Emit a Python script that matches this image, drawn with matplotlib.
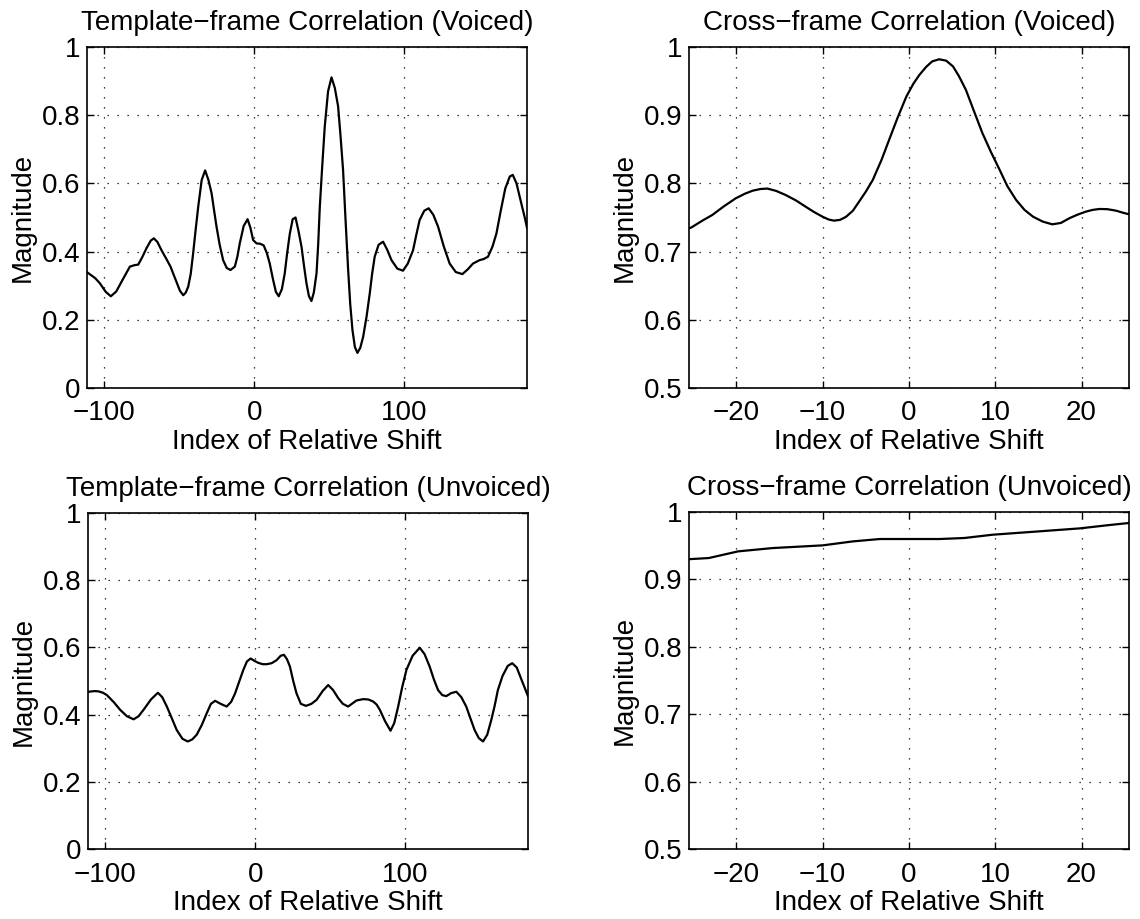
import matplotlib
matplotlib.use('Agg')
import matplotlib.pyplot as plt
from matplotlib.ticker import FormatStrFormatter, MultipleLocator

# ---------------- data ----------------
tv_x = [-111.3, -106, -102.9, -99, -95.6, -92, -87.3, -82.9, -80, -77.3, -74.5, -71.8, -69, -66.9,
        -64.5, -61.8, -58.5, -55.8, -53.5, -51.8, -49.5, -47.3, -45.6, -44, -42.3, -40.7, -39, -37.3,
        -35, -32.7, -30.5, -28.4, -26.7, -25.1, -23, -20.7, -18.3, -15.8, -12.9, -11.2, -9.6, -7, -4.4,
        -2.5, -0.7, 1.6, 4, 6.4, 8.5, 10.4, 12.5, 14.5, 16.4, 18.5, 20.4, 22, 23.8, 25.7, 27.6, 29.5,
        31.6, 33.2, 34.9, 36.5, 38.2, 39.8, 41.6, 42.7, 43.8, 45.4, 47.1, 49.3, 51.6, 53.8, 56, 57.6,
        59.3, 61, 62.7, 64.1, 65.6, 67.2, 68.9, 70.8, 72.7, 75, 77.1, 78.7, 80.4, 83, 86, 88.8, 91.6,
        95.5, 99.3, 102.5, 106, 108.2, 110.4, 113.5, 116.4, 119.5, 122.7, 126.5, 130.4, 134.5, 138.9,
        142.5, 146, 150.4, 153, 156, 159, 161.6, 164.5, 167.5, 170.5, 172.5, 175, 178, 180.5, 182]
tv_y = [0.339, 0.322, 0.307, 0.282, 0.269, 0.283, 0.321, 0.356, 0.360, 0.362, 0.385, 0.410, 0.432, 0.439,
        0.428, 0.404, 0.378, 0.356, 0.330, 0.311, 0.285, 0.272, 0.280, 0.297, 0.335, 0.395, 0.465, 0.532,
        0.610, 0.638, 0.610, 0.571, 0.520, 0.473, 0.420, 0.375, 0.352, 0.346, 0.356, 0.385, 0.424, 0.475, 0.495,
        0.470, 0.434, 0.424, 0.423, 0.418, 0.395, 0.365, 0.320, 0.282, 0.269, 0.290, 0.336, 0.395, 0.453, 0.495, 0.500, 0.462,
        0.414, 0.360, 0.307, 0.270, 0.255, 0.280, 0.336, 0.420, 0.532, 0.650, 0.767, 0.870, 0.911, 0.880, 0.826, 0.740,
        0.640, 0.490, 0.346, 0.245, 0.169, 0.120, 0.103, 0.118, 0.150, 0.210, 0.277, 0.335, 0.385, 0.420, 0.429, 0.405, 0.375,
        0.350, 0.344, 0.365, 0.404, 0.450, 0.493, 0.520, 0.527, 0.508, 0.473, 0.415, 0.365, 0.340, 0.334,
        0.348, 0.365, 0.375, 0.378, 0.385, 0.415, 0.453, 0.520, 0.585, 0.620, 0.625, 0.600, 0.545, 0.500, 0.470]

cv_x = [-25.5, -25.2, -24, -22.8, -21.5, -20.1, -19, -18.1, -17.2, -16.4, -15.4, -14.3, -13.1, -12, -11,
        -10, -9.3, -8.7, -8, -7.3, -6.5, -5.8, -5, -4.2, -3.2, -2.3, -1.3, -0.3, 0.5, 1.2, 2, 2.7, 3.5,
        4.3, 5.1, 5.8, 6.6, 7.5, 8.5, 9.5, 10.5, 11.4, 12.4, 13.4, 14.4, 15.5, 16.6, 17.6, 18.6, 19.5,
        20.5, 21.3, 22.1, 23, 24, 24.8, 25.5]
cv_y = [0.734, 0.7356, 0.745, 0.7537, 0.766, 0.778, 0.785, 0.7894, 0.7918, 0.7924, 0.789, 0.783, 0.775, 0.766, 0.758,
        0.751, 0.747, 0.7454, 0.7465, 0.751, 0.760, 0.773, 0.788, 0.805, 0.834, 0.864, 0.897, 0.9275, 0.946, 0.959, 0.971, 0.979, 0.982,
        0.980, 0.9716, 0.957, 0.937, 0.907, 0.874, 0.846, 0.820, 0.796, 0.776, 0.761, 0.751, 0.744, 0.740, 0.742, 0.749, 0.754,
        0.7586, 0.7612, 0.7625, 0.7622, 0.760, 0.757, 0.7547]

tu_x = [-111.1, -107, -104.4, -101.5, -98.9, -94.5, -90, -85.5, -81.1, -77.8, -74.5, -69.5, -64.9, -62, -58.9,
        -55.5, -52.3, -48.5, -45, -42, -39, -35.5, -32.3, -29.5, -26.7, -23, -19, -16, -13.4, -10.5, -7.9,
        -5.5, -3, -0.5, 2.1, 5, 7.7, 11, 14.3, 17, 19.2, 21.2, 23.2, 25.4, 27.6, 30.5, 33.9, 37.5, 41, 45,
        48.7, 52, 55.4, 58.5, 62, 64.8, 67.6, 72, 75.5, 78.7, 81, 83.2, 86.7, 90.3, 92.8, 95.4, 98, 100.9,
        105, 109.8, 113, 116.4, 119.2, 122, 124.8, 127.5, 130.8, 134.2, 137.5, 140.8, 143.5, 146.4, 149.2,
        152, 154.8, 157.5, 159.7, 161.9, 165, 168.5, 171.5, 174.5, 178, 182]
tu_y = [0.468, 0.470, 0.469, 0.465, 0.458, 0.438, 0.414, 0.395, 0.386, 0.395, 0.414, 0.445, 0.465, 0.452, 0.424,
        0.388, 0.354, 0.328, 0.320, 0.326, 0.340, 0.370, 0.404, 0.432, 0.441, 0.432, 0.424, 0.438, 0.463, 0.500, 0.533,
        0.558, 0.567, 0.560, 0.554, 0.550, 0.550, 0.553, 0.562, 0.575, 0.578, 0.565, 0.543, 0.500, 0.463, 0.432, 0.426, 0.432, 0.444, 0.470,
        0.488, 0.473, 0.449, 0.432, 0.424, 0.433, 0.442, 0.446, 0.445, 0.439, 0.430, 0.414, 0.380, 0.352, 0.375, 0.424, 0.480, 0.533,
        0.575, 0.599, 0.580, 0.543, 0.505, 0.473, 0.458, 0.455, 0.464, 0.468, 0.452, 0.424, 0.390, 0.354, 0.330,
        0.320, 0.340, 0.384, 0.425, 0.473, 0.515, 0.545, 0.553, 0.540, 0.500, 0.455]

cu_x = [-25.5, -23.2, -19.8, -15.8, -10, -6.5, -3.4, 0, 3.5, 6.4, 9.7, 15.1, 19.8, 22.9, 25.5]
cu_y = [0.930, 0.9317, 0.9416, 0.9465, 0.9505, 0.9564, 0.9599, 0.9599, 0.9599, 0.9614, 0.9663, 0.9713, 0.9757, 0.9802, 0.9837]

titles = ['Template\u2212frame Correlation (Voiced)', 'Cross\u2212frame Correlation (Voiced)',
          'Template\u2212frame Correlation (Unvoiced)', 'Cross\u2212frame Correlation (Unvoiced)']
xlabel = 'Index of Relative Shift'
ylabel = 'Magnitude'

# ---------------- figure ----------------
plt.rcParams['font.family'] = ['Liberation Sans', 'DejaVu Sans']
plt.rcParams['axes.unicode_minus'] = True
FS = 20

W, H = 1140, 919
fig = plt.figure(figsize=(W / 100, H / 100), dpi=100)

def pos(l, t, r, b):
    return [l / W, 1 - b / H, (r - l) / W, (b - t) / H]

axes = [
    fig.add_axes(pos(87, 47, 527, 388)),
    fig.add_axes(pos(689, 47, 1129, 388)),
    fig.add_axes(pos(88, 513, 528, 849)),
    fig.add_axes(pos(689, 512, 1129, 849)),
]

series = [(tv_x, tv_y), (cv_x, cv_y), (tu_x, tu_y), (cu_x, cu_y)]

for i, (ax, (xs, ys)) in enumerate(zip(axes, series)):
    ax.plot(xs, ys, color='black', linewidth=1.6)
    if i in (0, 2):
        ax.set_xlim(-111.5, 182)
        ax.set_ylim(0, 1)
        ax.xaxis.set_major_locator(MultipleLocator(100))
        ax.yaxis.set_major_locator(MultipleLocator(0.2))
    else:
        ax.set_xlim(-25.5, 25.5)
        ax.set_ylim(0.5, 1)
        ax.xaxis.set_major_locator(MultipleLocator(10))
        ax.yaxis.set_major_locator(MultipleLocator(0.1))
    ax.yaxis.set_major_formatter(FormatStrFormatter('%g'))
    ax.grid(True, linestyle=(0, (1, 7)), color='black', linewidth=0.9)
    ax.tick_params(direction='in', length=5, width=1, top=True, right=True,
                   labelsize=FS, colors='black')
    ax.tick_params(axis='x', pad=9)
    ax.tick_params(axis='y', pad=5)
    for s in ax.spines.values():
        s.set_linewidth(1.2)
        s.set_color('black')
    ax.set_title(titles[i], fontsize=FS, pad=12)
    ax.set_xlabel(xlabel, fontsize=FS, labelpad=2)
    ax.set_ylabel(ylabel, fontsize=FS, labelpad=4)

fig.savefig('out.png', dpi=100)
